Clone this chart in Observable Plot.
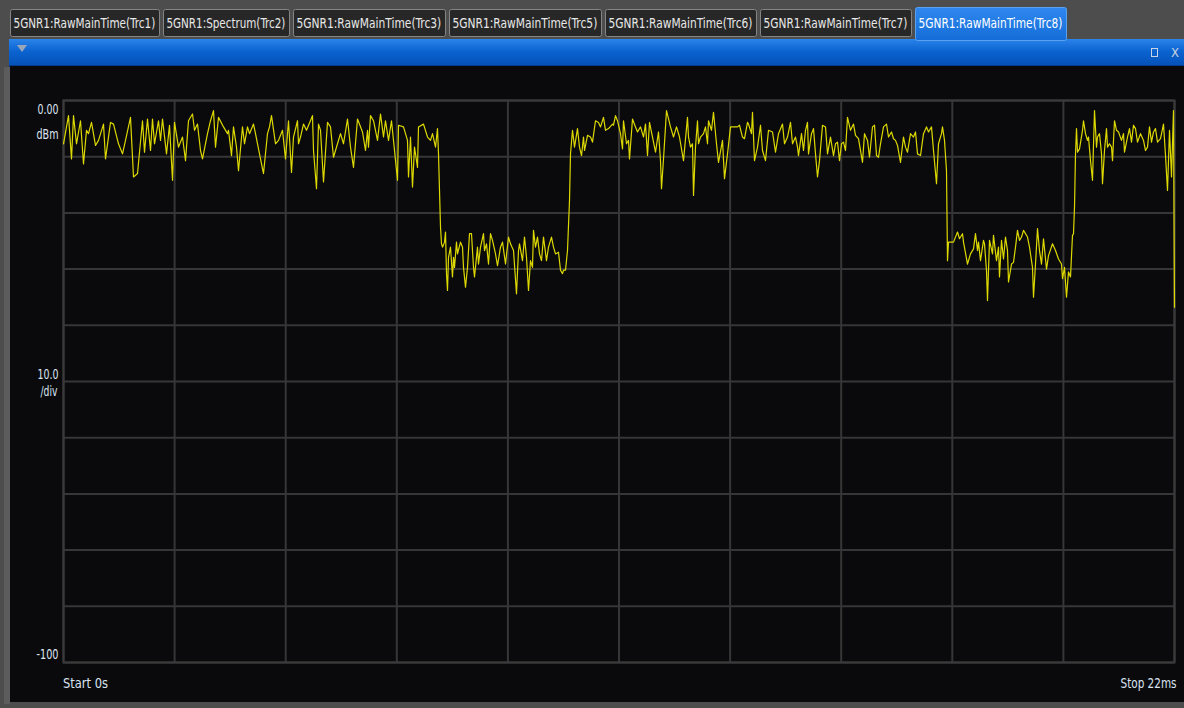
<!DOCTYPE html>
<html>
<head>
<meta charset="utf-8">
<script src="https://cdn.jsdelivr.net/npm/d3@7"></script>
<script src="https://cdn.jsdelivr.net/npm/@observablehq/plot@0.6"></script>
<style>
  html, body { margin: 0; padding: 0; width: 1184px; height: 708px; overflow: hidden; background: #4d4d4d; }
  #header { position: absolute; left: 0; top: 0; }
  #leftStrip { position: absolute; left: 4px; top: 40px; width: 6px; height: 664px; background: #5c5c5c; }
  #chart { position: absolute; left: 10px; top: 66px; }
</style>
</head>
<body>
<div id="leftStrip"></div>
<svg id="header" width="1184" height="67"></svg>
<div id="chart"></div>
<script>
// ---------------- data ----------------
const tabNames = [
  "5GNR1:RawMainTime(Trc1)",
  "5GNR1:Spectrum(Trc2)",
  "5GNR1:RawMainTime(Trc3)",
  "5GNR1:RawMainTime(Trc5)",
  "5GNR1:RawMainTime(Trc6)",
  "5GNR1:RawMainTime(Trc7)",
  "5GNR1:RawMainTime(Trc8)"
];
const activeTab = 6;

const spanMs = 22;            // Start 0 s, Stop 22 ms
const samplesPerSpan = 1111;  // sweep points across the span
const refLevelDbm = 0;
const dbPerDiv = 10;
const divisions = 10;

const yLabels = ["0.00", "dBm", "10.0", "/div", "-100"];
const xLabels = ["Start 0s", "Stop 22ms"];

// trace: sweep point index and level in dBm
const sampleIndex = [
  0,5,8,10,13,17,20,23,25,28,32,35,40,42,47,50,55,59,62,67,70,74,79,81,84,87,89,91,95,97,99,
  103,106,109,111,115,119,122,125,129,131,134,137,139,144,147,150,152,155,160,164,165,168,170,
  173,175,179,181,184,186,190,192,196,200,204,206,208,212,215,219,222,225,228,230,234,235,237,
  240,243,249,250,253,255,257,260,264,267,270,274,277,280,284,287,290,294,299,302,304,305,307,
  310,314,317,320,322,325,328,330,334,335,340,344,345,347,349,351,354,355,360,364,367,369,372,
  374,375,
  377,378,379,381,382,383,384,385,387,389,390,391,393,394,397,399,400,402,404,406,408,410,411,
  414,415,417,420,421,423,425,427,429,432,434,437,439,442,445,447,450,453,455,456,459,461,463,
  465,467,469,470,472,474,476,478,480,483,485,488,490,492,495,497,499,500,502,504,506,507,
  509,511,514,516,518,520,521,524,527,529,532,535,537,540,542,545,549,550,552,554,557,559,560,
  563,565,566,569,572,574,577,580,582,584,586,589,592,595,597,598,600,603,607,610,613,616,620,
  624,625,627,629,630,632,634,635,637,640,642,644,645,648,650,653,655,659,661,664,667,670,674,
  676,679,681,684,685,688,689,691,694,697,699,702,705,709,712,715,719,721,724,727,729,732,734,
  735,738,740,742,744,745,748,750,752,754,756,759,762,764,767,770,772,774,776,778,780,782,784,
  787,790,792,795,799,801,804,806,809,811,813,815,817,820,823,825,828,830,832,834,837,840,842,
  844,847,850,852,854,857,860,863,865,868,870,873,875,878,879,881,883,
  884,885,887,890,894,896,899,900,904,907,910,912,914,915,917,920,921,923,924,926,929,930,933,
  935,936,938,940,942,944,945,948,950,952,954,956,958,960,964,966,969,970,972,974,976,978,980,
  983,985,989,992,995,998,999,1001,1003,1005,1007,1009,1010,1011,
  1012,1013,1014,1016,1019,1020,1022,1024,1025,1027,1029,1031,1033,1034,1036,1038,1039,1041,
  1043,1044,1046,1048,1049,1051,1053,1055,1058,1060,1061,1064,1066,1068,1070,1072,1074,1077,
  1080,1082,1084,1086,1088,1090,1092,1094,1097,1100,1102,1104,1105,1106,1108,1110,1111
];
const levelDbm = [
  -7.7,-2.7,-10.4,-2.7,-7.7,-3.6,-11.3,-5.3,-5.9,-3.9,-8.0,-7.1,-4.2,-10.4,-3.9,-4.2,-7.7,-9.5,-7.1,-3.0,-13.6,-13.0,-3.6,-9.2,-3.3,-8.9,-3.3,-7.7,-3.6,-7.1,-3.3,
  -9.5,-4.4,-14.2,-3.9,-8.3,-6.5,-10.7,-3.6,-2.4,-5.3,-4.2,-8.9,-10.4,-5.9,-3.6,-1.8,-8.3,-3.0,-4.7,-5.9,-5.3,-9.8,-4.7,
  -8.3,-12.5,-4.7,-7.7,-4.7,-5.9,-4.2,-5.9,-9.5,-13.0,-5.9,-4.7,-2.7,-7.7,-7.1,-5.3,-10.4,-3.6,-12.8,-6.5,-3.6,-7.7,-6.5,
  -4.2,-5.3,-2.7,-8.9,-15.7,-4.2,-5.3,-14.5,-3.9,-4.7,-10.1,-7.7,-5.9,-7.7,-3.3,-8.3,-11.9,-3.3,-5.6,-8.9,-5.3,-8.3,-2.7,
  -3.6,-7.1,-2.4,-6.5,-3.6,-7.1,-3.6,-7.1,-14.2,-4.4,-4.7,-7.1,-13.6,-6.5,-15.4,-8.3,-11.9,-4.7,-4.2,-6.5,-7.1,-5.9,-8.3,
  -5.0,-9.5,
  -22.5,-25.5,-26.1,-25.2,-23.4,-30.8,-33.8,-27.9,-26.1,-31.4,-27.9,-29.7,-25.2,-27.3,-25.2,-26.1,-29.7,-33.2,-29.7,-23.7,-23.7,-29.7,-31.4,
  -26.1,-29.1,-26.1,-23.7,-26.7,-25.5,-29.1,-23.7,-24.9,-27.3,-29.4,-26.1,-25.2,-29.1,-24.3,-25.5,-26.7,-34.4,-26.7,-25.5,-28.5,-24.3,-27.9,
  -33.8,-28.5,-29.7,-23.1,-26.1,-24.3,-27.3,-28.5,-24.3,-28.5,-26.1,-24.3,-26.1,-27.3,-27.0,-30.2,-30.8,-30.2,-30.2,-26.7,-17.8,-9.5,
  -5.3,-8.3,-5.0,-8.3,-9.8,-6.5,-8.9,-6.2,-6.5,-7.4,-3.6,-3.9,-4.7,-3.0,-5.3,-5.0,-4.2,-4.4,-2.7,-3.6,-5.9,-8.6,-3.6,
  -7.7,-7.1,-10.4,-3.3,-4.7,-5.6,-4.7,-6.5,-4.2,-9.8,-3.9,-6.5,-9.2,-5.6,-10.7,-15.7,-10.4,-1.8,-4.7,-6.5,-4.7,-6.5,-10.7,
  -3.0,-6.5,-8.3,-7.7,-16.9,-8.3,-3.6,-7.7,-6.5,-5.9,-4.7,-7.7,-3.6,-5.3,-2.1,-7.7,-11.0,-7.1,-13.9,-9.5,-4.7,-4.7,-4.7,
  -4.4,-6.5,-6.8,-3.9,-4.2,-5.9,-2.1,-10.7,-8.3,-4.4,-8.9,-10.7,-5.3,-5.6,-9.2,-5.9,-4.2,-7.7,-6.5,-3.9,-7.7,-6.5,-8.3,
  -9.8,-5.9,-8.9,-5.3,-3.9,-9.5,-5.9,-5.0,-9.5,-13.6,-10.7,-4.4,-4.7,-9.5,-6.5,-9.8,-7.7,-7.4,-10.7,-7.7,-7.4,-8.9,-3.0,
  -5.3,-4.2,-6.2,-6.8,-11.0,-5.9,-7.1,-10.1,-4.7,-4.4,-9.8,-10.1,-7.7,-4.7,-4.2,-6.5,-5.6,-6.8,-7.1,-8.0,-11.0,-6.5,-8.3,
  -9.2,-5.9,-6.5,-5.6,-9.5,-9.8,-5.9,-4.7,-5.6,-4.7,-8.9,-14.8,-7.7,-5.9,-4.7,-7.1,-12.5,
  -28.5,-25.2,-25.2,-25.2,-23.4,-24.6,-23.7,-25.2,-29.1,-27.3,-26.4,-23.7,-26.7,-25.2,-28.5,-24.9,-25.5,-30.3,-35.6,-24.9,-27.3,-24.0,-28.5,
  -26.1,-31.4,-24.9,-28.2,-24.3,-26.7,-32.3,-29.1,-28.8,-26.1,-23.1,-24.9,-24.3,-23.1,-24.3,-26.1,-29.7,-35.0,-29.1,-22.8,-26.7,-29.1,-24.6,
  -30.0,-27.6,-25.5,-26.7,-28.2,-29.1,-31.7,-29.7,-35.0,-30.5,-31.4,-24.0,-23.7,-19.0,
  -9.5,-5.0,-9.2,-8.6,-5.3,-3.6,-5.9,-7.1,-6.5,-10.7,-14.2,-1.8,-8.3,-6.5,-5.9,-9.5,-14.8,-8.9,
  -5.0,-8.3,-7.7,-8.3,-10.7,-3.6,-5.3,-5.6,-7.1,-5.9,-9.2,-6.5,-5.0,-7.4,-4.4,-5.0,-7.4,-5.9,
  -7.1,-8.9,-8.3,-4.7,-7.4,-5.6,-5.0,-7.4,-6.8,-4.2,-9.8,-16.0,-10.7,-5.3,-13.6,-1.8,-36.8
];

// ---------------- helpers ----------------
const font = '"Liberation Sans Narrow","Arial Narrow","DejaVu Sans Condensed",Roboto,sans-serif';
// squeeze a text horizontally about its anchor so it spans the given width
function fitWidth(node, width) {
  const natural = node.getComputedTextLength();
  if (!natural) return;
  const sx = width / natural;
  const ax = parseFloat(node.getAttribute("x") || 0) + parseFloat(node.getAttribute("dx") || 0);
  const prev = node.getAttribute("transform") || "";
  node.setAttribute("transform", `${prev} translate(${ax},0) scale(${sx},1) translate(${-ax},0)`);
}

// ---------------- header (tab strip + window bar) ----------------
const tabLeft  = [10, 163, 293, 449, 605, 760, 915];
const tabRight = [160, 290, 446, 602, 757, 912, 1067];

const hdr = d3.select("#header");
const defs = hdr.append("defs");
const g1 = defs.append("linearGradient").attr("id", "barGrad").attr("x1", 0).attr("x2", 0).attr("y1", 0).attr("y2", 1);
g1.append("stop").attr("offset", "0%").attr("stop-color", "#2a84ea");
g1.append("stop").attr("offset", "45%").attr("stop-color", "#0b63d0");
g1.append("stop").attr("offset", "100%").attr("stop-color", "#044fb4");
const g2 = defs.append("linearGradient").attr("id", "tabGrad").attr("x1", 0).attr("x2", 0).attr("y1", 0).attr("y2", 1);
g2.append("stop").attr("offset", "0%").attr("stop-color", "#2f88ee");
g2.append("stop").attr("offset", "100%").attr("stop-color", "#146cd8");

hdr.append("rect").attr("x", 0).attr("y", 0).attr("width", 1184).attr("height", 67).attr("fill", "#4d4d4d");
hdr.append("rect").attr("x", 9).attr("y", 39).attr("width", 1175).attr("height", 28).attr("fill", "url(#barGrad)");
hdr.append("rect").attr("x", 9).attr("y", 65).attr("width", 1175).attr("height", 2).attr("fill", "#033c8a");

tabNames.forEach((name, i) => {
  const x0 = tabLeft[i], x1 = tabRight[i];
  const active = i === activeTab;
  hdr.append("rect")
    .attr("x", x0 + 0.5).attr("y", active ? 7.5 : 9.5)
    .attr("width", x1 - x0 - 1).attr("height", active ? 33 : 27)
    .attr("rx", 2)
    .attr("fill", active ? "url(#tabGrad)" : "#272727")
    .attr("stroke", active ? "#5aa2f0" : "#858585")
    .attr("stroke-width", 1);
  const t = hdr.append("text")
    .attr("x", x0 + 3.5).attr("y", 23).attr("dy", "0.36em")
    .attr("font-family", font).attr("font-size", 14)
    .attr("fill", active ? "#ffffff" : "#e8e8e8")
    .text(name);
  fitWidth(t.node(), x1 - x0 - 8);
});
hdr.append("path").attr("d", "M17,45 L27,45 L22,52 Z").attr("fill", "#9aa7ba");
hdr.append("rect").attr("x", 1151.5).attr("y", 48.5).attr("width", 6).attr("height", 8)
  .attr("fill", "none").attr("stroke", "#c9d3e2").attr("stroke-width", 1);
hdr.append("text").attr("x", 1175).attr("y", 52.5).attr("dy", "0.36em").attr("text-anchor", "middle")
  .attr("font-family", font).attr("font-size", 13).attr("fill", "#c9d3e2").text("X");

// ---------------- chart ----------------
const sampleMs = spanMs / samplesPerSpan;
const trace = sampleIndex.map((s, k) => ({ t: s * sampleMs, dbm: levelDbm[k] }));
const xDivTicks = d3.range(0, divisions + 1).map(i => i * spanMs / divisions);
const yDivTicks = d3.range(0, divisions + 1).map(i => refLevelDbm - i * dbPerDiv);
const yBottom = refLevelDbm - divisions * dbPerDiv;

const labelColor = "#dbe4f2";
const lbl = { textAnchor: "end", lineAnchor: "middle", fill: labelColor };
const chart = Plot.plot({
  width: 1174,
  height: 636,
  marginLeft: 53,
  marginRight: 10,
  marginTop: 34,
  marginBottom: 40,
  style: { background: "#0a0a0c", color: labelColor, fontFamily: font, fontSize: "14.5px" },
  x: { domain: [0, spanMs], axis: null },
  y: { domain: [yBottom, refLevelDbm], axis: null },
  marks: [
    Plot.gridX(xDivTicks, { stroke: "#363636", strokeOpacity: 1, strokeWidth: 2 }),
    Plot.gridY(yDivTicks, { stroke: "#363636", strokeOpacity: 1, strokeWidth: 2 }),
    Plot.frame({ stroke: "#3a3a3a", strokeWidth: 2 }),
    Plot.line(trace, { x: "t", y: "dbm", stroke: "#dcd800", strokeWidth: 1.2, strokeLinejoin: "round" }),
    Plot.text([yLabels[0]], { ...lbl, frameAnchor: "top-left", dx: -5, dy: 9 }),
    Plot.text([yLabels[1]], { ...lbl, frameAnchor: "top-left", dx: -5, dy: 34 }),
    Plot.text([yLabels[2]], { ...lbl, frameAnchor: "left", dx: -5, dy: -7 }),
    Plot.text([yLabels[3]], { ...lbl, frameAnchor: "left", dx: -6, dy: 10 }),
    Plot.text([yLabels[4]], { ...lbl, frameAnchor: "bottom-left", dx: -5, dy: -8 }),
    Plot.text([xLabels[0]], { ...lbl, frameAnchor: "bottom-left", dx: -0.5, dy: 21, textAnchor: "start" }),
    Plot.text([xLabels[1]], { ...lbl, frameAnchor: "bottom-right", dx: 2, dy: 21 })
  ]
});
document.getElementById("chart").appendChild(chart);

// fit condensed label widths to the instrument font
const labelWidths = { "0.00": 21, "dBm": 22, "10.0": 21, "/div": 17, "-100": 22, "Start 0s": 45, "Stop 22ms": 56 };
d3.select(chart).selectAll("text").each(function () {
  const w = labelWidths[this.textContent];
  if (w) fitWidth(this, w);
});
</script>
</body>
</html>
